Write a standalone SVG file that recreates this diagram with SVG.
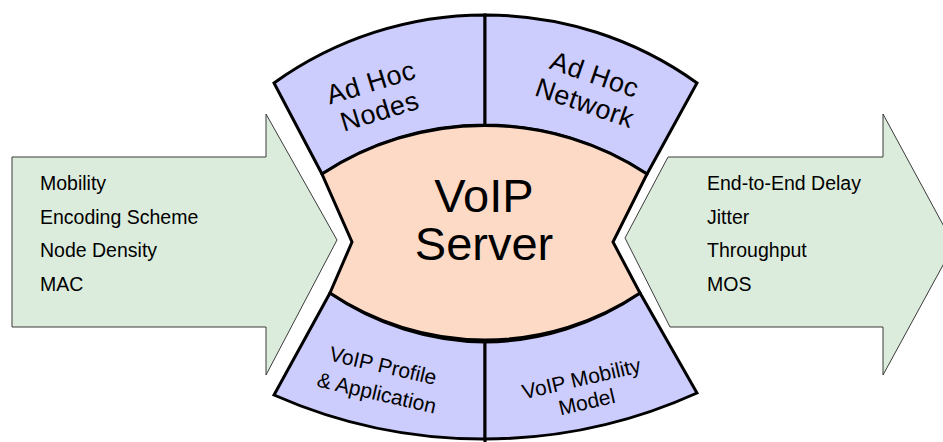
<svg xmlns="http://www.w3.org/2000/svg" width="943" height="442" viewBox="0 0 943 442">
<style>
.arrow{fill:#dcecdc;stroke:#3a3a3a;stroke-width:1}
.sector{fill:#ccccfd;stroke:#000;stroke-width:3;stroke-linejoin:miter}
.core{fill:#fddac6;stroke:#000;stroke-width:3}
.lst{font-family:"Liberation Sans",Arial,sans-serif;font-size:19.5px;fill:#000}
.lbl{font-family:"Liberation Sans",Arial,sans-serif;font-size:27px;fill:#000;text-anchor:middle;letter-spacing:0.5px}
.lbl2{font-family:"Liberation Sans",Arial,sans-serif;font-size:21px;fill:#000;text-anchor:middle}
.big{font-family:"Liberation Sans",Arial,sans-serif;font-size:47px;fill:#000;text-anchor:middle}
</style>
<rect width="943" height="442" fill="#fff"/>
<g id="connectors">
  <g id="input-arrow">
    <path class="arrow" d="M12,157 L266,157 L266,114 L337,240 L266,375 L266,327 L12,327 Z"/>
    <text class="lst" x="40" y="190">Mobility</text>
    <text class="lst" x="40" y="224">Encoding Scheme</text>
    <text class="lst" x="40" y="257">Node Density</text>
    <text class="lst" x="40" y="291">MAC</text>
  </g>
  <g id="output-arrow">
    <path class="arrow" d="M668,157 L883,157 L883,114 L954,245 L883,375 L883,327 L670,327 L625,238 Z"/>
    <text class="lst" x="707" y="190">End-to-End Delay</text>
    <text class="lst" x="707" y="224">Jitter</text>
    <text class="lst" x="707" y="257">Throughput</text>
    <text class="lst" x="707" y="291">MOS</text>
  </g>
</g>
<g id="ad-hoc-nodes">
  <path class="sector" d="M274,83 A361,361 0 0 1 485,15 L485,125 A296,296 0 0 0 322,174 Z"/>
  <g transform="translate(375,96) rotate(-17)">
    <text class="lbl" x="0" y="-5">Ad Hoc</text>
    <text class="lbl" x="0" y="25">Nodes</text>
  </g>
</g>
<g id="ad-hoc-network">
  <path class="sector" d="M485,15 A361,361 0 0 1 697,83 L647,174 A296,296 0 0 0 485,125 Z"/>
  <g transform="translate(590,88) rotate(19)">
    <text class="lbl" x="0" y="-5">Ad Hoc</text>
    <text class="lbl" x="0" y="25">Network</text>
  </g>
</g>
<g id="voip-profile">
  <path class="sector" d="M330,293 A279,279 0 0 0 485,342 L485,439 A518,518 0 0 1 274,395 Z"/>
  <line x1="485" y1="439" x2="485" y2="442" stroke="#000" stroke-width="3"/>
  <g transform="translate(380,379) rotate(13)">
    <text class="lbl2" x="0" y="-6.5">VoIP Profile</text>
    <text class="lbl2" x="0" y="21.5">&amp; Application</text>
  </g>
</g>
<g id="voip-mobility-model">
  <path class="sector" d="M485,342 A279,279 0 0 0 640,293 L697,393 A518,518 0 0 1 485,439 Z"/>
  <g transform="translate(584,390) rotate(-13)">
    <text class="lbl2" x="0" y="-4.5">VoIP Mobility</text>
    <text class="lbl2" x="0" y="19.5">Model</text>
  </g>
</g>
<g id="voip-server">
  <path class="core" d="M322,174 A296,296 0 0 1 647,174 L613,242 L640,293 A279,279 0 0 1 330,293 L352,242 Z"/>
  <text class="big" x="484" y="212">VoIP</text>
  <text class="big" x="484" y="260">Server</text>
</g>
</svg>
